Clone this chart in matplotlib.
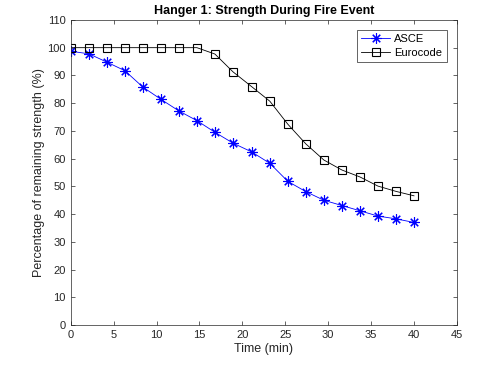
import numpy as np
import matplotlib.pyplot as plt

plt.rcParams["font.family"] = ["Liberation Sans", "DejaVu Sans"]

time_min = [0, 2.1, 4.2, 6.3, 8.4, 10.5, 12.6, 14.7, 16.8, 18.9,
            21.1, 23.2, 25.3, 27.4, 29.5, 31.6, 33.7, 35.8, 37.9, 40]
asce = [98.7, 97.8, 94.8, 91.7, 85.8, 81.4, 77.2, 73.7, 69.5, 65.6,
        62.4, 58.3, 51.8, 48.1, 45.0, 43.1, 41.2, 39.3, 38.3, 37.0]
eurocode = [100, 100, 100, 100, 100, 100, 100, 100, 97.7, 91.3,
            85.9, 80.7, 72.4, 65.3, 59.5, 55.9, 53.4, 50.1, 48.2, 46.6]

fig = plt.figure(figsize=(4.95, 3.69), dpi=100)
ax = fig.add_axes([0.143, 0.119, 0.78, 0.827])

ax.plot(time_min, asce, color="blue", marker=(8, 2, 0), markersize=7.5,
        markeredgewidth=0.8, linewidth=0.6, label="ASCE")
ax.plot(time_min, eurocode, color="black", marker="s", markersize=6,
        markerfacecolor="none", markeredgewidth=0.8, linewidth=0.6,
        label="Eurocode")

ax.set_xlim(0, 45)
ax.set_ylim(0, 110)
ax.set_xticks(range(0, 46, 5))
ax.set_yticks(range(0, 111, 10))
ax.tick_params(direction="in", top=True, right=True, labelsize=8,
               colors="0.15", length=3, width=0.5)
for s in ax.spines.values():
    s.set_color("0.15")
    s.set_linewidth(0.5)

ax.set_title("Hanger 1: Strength During Fire Event", fontsize=9,
             fontweight="bold", pad=4)
ax.set_xlabel("Time (min)", fontsize=9, color="0.15", labelpad=2)
ax.set_ylabel("Percentage of remaining strength (%)", fontsize=9,
              color="0.15", labelpad=2)

leg = ax.legend(loc="upper right", fontsize=8, fancybox=False,
                edgecolor="0.15", framealpha=1, handlelength=2.6,
                borderaxespad=0.9, borderpad=0.4, labelspacing=0.3,
                handletextpad=0.4)
leg.get_frame().set_linewidth(0.5)

plt.savefig("out.png")
plt.close()
